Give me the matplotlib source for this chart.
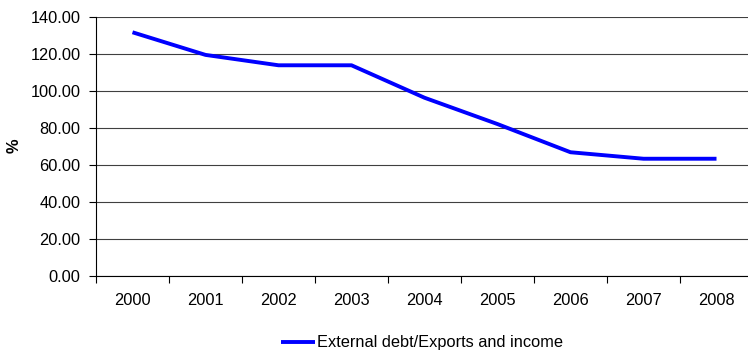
import numpy as np
import matplotlib
matplotlib.use('Agg')
import matplotlib.pyplot as plt

years = ['2000', '2001', '2002', '2003', '2004', '2005', '2006', '2007', '2008']
debt_ratio = [131.6, 119.4, 113.8, 113.8, 96.3, 82.1, 66.9, 63.4, 63.4]
series_name = 'External debt/Exports and income'

plt.rcParams['font.family'] = ['Liberation Sans', 'DejaVu Sans']
fs = 11.8

fig = plt.figure(figsize=(7.48, 3.54), dpi=100)
# plot area runs slightly past the right edge of the canvas
ax = fig.add_axes([96 / 748, (354 - 276.3) / 354, (753 - 96) / 748, (276.3 - 16.7) / 354])

x = np.arange(len(years))
line, = ax.plot(x, debt_ratio, color='#0000ff', lw=2.8, solid_capstyle='butt',
                label=series_name, zorder=3)

ax.set_ylim(0, 140)
ax.set_xlim(-0.5, len(years) - 0.5)
ax.set_yticks(np.arange(0, 141, 20))
ax.set_yticklabels(['%.2f' % v for v in np.arange(0, 141, 20)], fontsize=fs)
ax.yaxis.grid(True, color='#404040', lw=0.8)
ax.set_axisbelow(True)

# tick marks between categories, labels centred on them
ax.set_xticks(np.arange(-0.5, len(years), 1.0))
ax.set_xticklabels([])
ax.set_xticks(x, minor=True)
ax.set_xticklabels(years, minor=True, fontsize=fs)
ax.tick_params(axis='x', which='minor', length=0, pad=12)
ax.tick_params(axis='x', which='major', length=5, width=0.8, direction='out')
ax.tick_params(axis='y', length=5, width=0.8, direction='out', pad=6)

for side in ['top', 'right']:
    ax.spines[side].set_visible(False)
for side in ['left', 'bottom']:
    ax.spines[side].set_linewidth(0.8)
    ax.spines[side].set_color('black')

fig.text(14 / 748, 1 - 146 / 354, '%', rotation=90, fontsize=fs, fontweight='bold',
         ha='center', va='center')

fig.legend(handles=[line], loc='center', bbox_to_anchor=(422 / 748, 1 - 343 / 354),
           frameon=False, fontsize=fs, handlelength=2.1, handletextpad=0.15)

fig.savefig('out.png', dpi=100)
